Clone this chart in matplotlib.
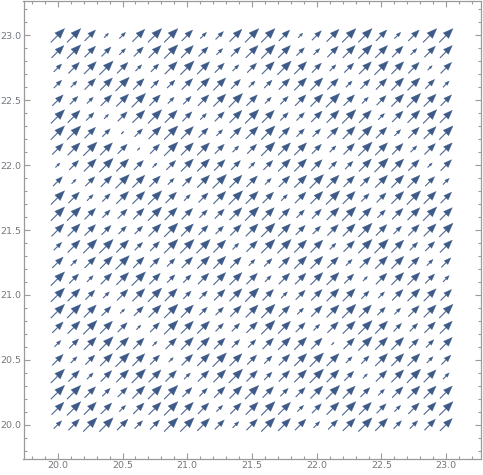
import numpy as np
import matplotlib
matplotlib.use("Agg")
import matplotlib.pyplot as plt
from matplotlib.ticker import MultipleLocator

# grid of sample points (x left->right, y top->bottom)
x_vals = np.linspace(20.0, 23.0, 25)
y_vals = np.linspace(23.0, 20.0, 25)

# every vector points the same way (up-right)
angle_deg = 45.0

# relative vector magnitude (0..4), rows from y=23 down to y=20
magnitude = [
    [4, 4, 3, 1, 1.5, 3.5, 4, 4, 3, 1.5, 2, 3.5, 4, 4, 3, 1, 2.5, 3.5, 4, 4, 3, 1.5, 3, 4, 4],
    [3.5, 4, 3, 2.5, 1.5, 2.5, 3.5, 4, 3.5, 2.5, 1.5, 2.5, 3.5, 4, 3.5, 2, 1.5, 3, 3.5, 4, 3.5, 3, 1.5, 3, 3.5],
    [2, 3, 3.5, 4, 3, 1.5, 2, 3.5, 4, 3.5, 2.5, 1.5, 2.5, 3.5, 4, 3.5, 2.5, 1.5, 2.5, 3.5, 4, 3.5, 3, 1, 3],
    [2, 1.5, 3, 3.5, 4, 3, 2, 2, 3, 3.5, 3.5, 2.5, 1.5, 2, 3, 3.5, 3.5, 3, 1.5, 2.5, 3, 3.5, 3.5, 2.5, 1.5],
    [3, 2, 1.5, 3, 3.5, 4, 3, 1.5, 2, 3, 3.5, 4, 3, 1.5, 2, 3, 3.5, 4, 3, 1.5, 2.5, 3.5, 4, 3.5, 3],
    [4, 3.5, 2, 1, 2.5, 3.5, 4, 3.5, 2.5, 1.5, 2.5, 3.5, 4, 3.5, 2, 2, 3, 3.5, 4, 3.5, 1.5, 3, 3.5, 4, 3.5],
    [4, 4, 3, 2, 0.5, 2, 3.5, 4, 3.5, 2.5, 1.5, 3, 3.5, 4, 3, 2, 2, 3, 3.5, 4, 3, 1.5, 3, 3.5, 4],
    [3, 3.5, 4, 3.5, 2.5, 0.5, 2.5, 4, 3.5, 3.5, 2.5, 1.5, 2.5, 4, 3.5, 3.5, 2.5, 1.5, 3, 4, 3.5, 3, 1.5, 3, 3.5],
    [1, 2.5, 3.5, 4, 3.5, 2.5, 1, 2.5, 3.5, 3.5, 3, 2.5, 1.5, 2.5, 3.5, 3.5, 3, 2, 2, 3.5, 4, 3.5, 3, 1, 3],
    [2.5, 1, 2.5, 3, 4, 3.5, 3, 1.5, 2.5, 3.5, 4, 3.5, 3, 1.5, 3, 3.5, 4, 3.5, 3, 2.5, 3.5, 3.5, 3.5, 2.5, 1.5],
    [4, 3, 1.5, 2, 3.5, 3.5, 4, 3, 1.5, 2.5, 3.5, 4, 3.5, 3, 1.5, 3, 3.5, 4, 3.5, 2, 2.5, 3.5, 4, 3.5, 3],
    [4, 4, 3, 2, 2.5, 3, 4, 3.5, 3, 2, 2.5, 3.5, 4, 3.5, 3, 2, 2.5, 3.5, 4, 3.5, 2, 3, 3.5, 4, 3.5],
    [3.5, 3.5, 3, 2.5, 2, 2, 3.5, 4, 3.5, 2.5, 2, 3, 3.5, 4, 3.5, 2.5, 2, 3, 3.5, 4, 3, 2, 3, 3.5, 4],
    [2, 3.5, 4, 4, 3.5, 2, 2.5, 4, 4, 4, 3.5, 1.5, 3, 4, 4, 3.5, 3.5, 1.5, 3, 4, 4, 3.5, 2, 2.5, 3.5],
    [3, 1.5, 3, 3.5, 4, 3, 2.5, 2, 3, 3.5, 3.5, 3, 1.5, 2, 3, 3.5, 3.5, 3, 1.5, 3, 3.5, 3.5, 3, 1.5, 2.5],
    [4, 2.5, 1.5, 3, 3.5, 4, 3, 2, 2, 3, 3.5, 3.5, 3, 1.5, 3, 3, 3.5, 3.5, 2.5, 1, 3, 3.5, 3.5, 2.5, 1.5],
    [4, 3.5, 2.5, 1.5, 3, 3.5, 4, 3.5, 2, 2, 3, 3.5, 4, 3, 1.5, 2.5, 3, 3.5, 3.5, 2, 1.5, 3, 3.5, 3.5, 3],
    [4, 4, 3.5, 2.5, 1, 2.5, 3.5, 4, 3.5, 2, 2, 3, 3.5, 4, 3, 1.5, 3, 3.5, 4, 3.5, 2, 1.5, 3, 3.5, 4],
    [3, 3.5, 4, 3.5, 2.5, 1, 2.5, 4, 3.5, 3.5, 2, 2, 3, 4, 3.5, 2.5, 1.5, 3, 3.5, 4, 3.5, 2, 2, 3, 3.5],
    [1.5, 2.5, 3.5, 4, 3.5, 3, 1, 3, 3.5, 3.5, 3, 2, 2, 3, 3.5, 3.5, 3, 0.5, 3, 4, 3.5, 3.5, 2.5, 2, 3.5],
    [3, 1.5, 2.5, 3.5, 4, 3.5, 2.5, 1, 3, 3.5, 4, 3.5, 2.5, 2, 3, 3.5, 4, 3.5, 1.5, 2, 3.5, 3.5, 3.5, 1.5, 2.5],
    [4, 3, 1.5, 3, 3.5, 4, 3.5, 3, 1.5, 3, 3.5, 4, 3, 2, 3, 3.5, 4, 3.5, 2.5, 1, 3, 3.5, 4, 3.5, 1.5],
    [4, 4, 3, 2, 2.5, 3.5, 4, 4, 2.5, 2, 3, 3.5, 4, 3, 2, 2.5, 3.5, 4, 3.5, 2.5, 1.5, 3, 3.5, 3.5, 3.5],
    [3.5, 4, 3.5, 3, 1.5, 3, 3.5, 4, 3.5, 3, 1.5, 3, 3.5, 4, 3.5, 1.5, 2.5, 3.5, 4, 3.5, 2.5, 1.5, 3, 3.5, 4],
    [2, 3, 4, 4, 3, 2, 2.5, 4, 4, 3.5, 2.5, 1.5, 3, 4, 3.5, 3, 1.5, 2.5, 3.5, 4, 3.5, 2, 2, 3, 3.5],
]

arrow_color = "#3d5a88"
frame_color = "#9a9a9a"
label_color = "#72787f"

fig = plt.figure(figsize=(4.83, 4.75), dpi=100)
ax = fig.add_axes([23.5 / 483, 16 / 475, 457 / 483, 458 / 475])

# longest arrow is a bit longer than the grid spacing
max_len = 0.15
ang = np.deg2rad(angle_deg)
for j, y in enumerate(y_vals):
    for i, x in enumerate(x_vals):
        L = max_len * (magnitude[j][i] / 4.0) ** 0.8
        dx, dy = L * np.cos(ang), L * np.sin(ang)
        ax.arrow(x - dx / 2, y - dy / 2, dx, dy,
                 width=0.0055, head_width=0.40 * L, head_length=0.52 * L,
                 length_includes_head=True, fc=arrow_color, ec=arrow_color,
                 lw=0.2)

ax.set_xlim(19.735, 23.265)
ax.set_ylim(19.735, 23.265)

for axis in (ax.xaxis, ax.yaxis):
    axis.set_major_locator(MultipleLocator(0.5))
    axis.set_minor_locator(MultipleLocator(0.1))
    axis.set_major_formatter(plt.FormatStrFormatter("%.1f"))

ax.tick_params(which="both", direction="in", top=True, right=True,
               color=frame_color, width=0.8, labelsize=6.8, labelcolor=label_color)
ax.tick_params(which="major", length=4.5, pad=1.5)
ax.tick_params(which="minor", length=2.5)
for sp in ax.spines.values():
    sp.set_color(frame_color)
    sp.set_linewidth(0.9)

fig.savefig("out.png", dpi=100)
